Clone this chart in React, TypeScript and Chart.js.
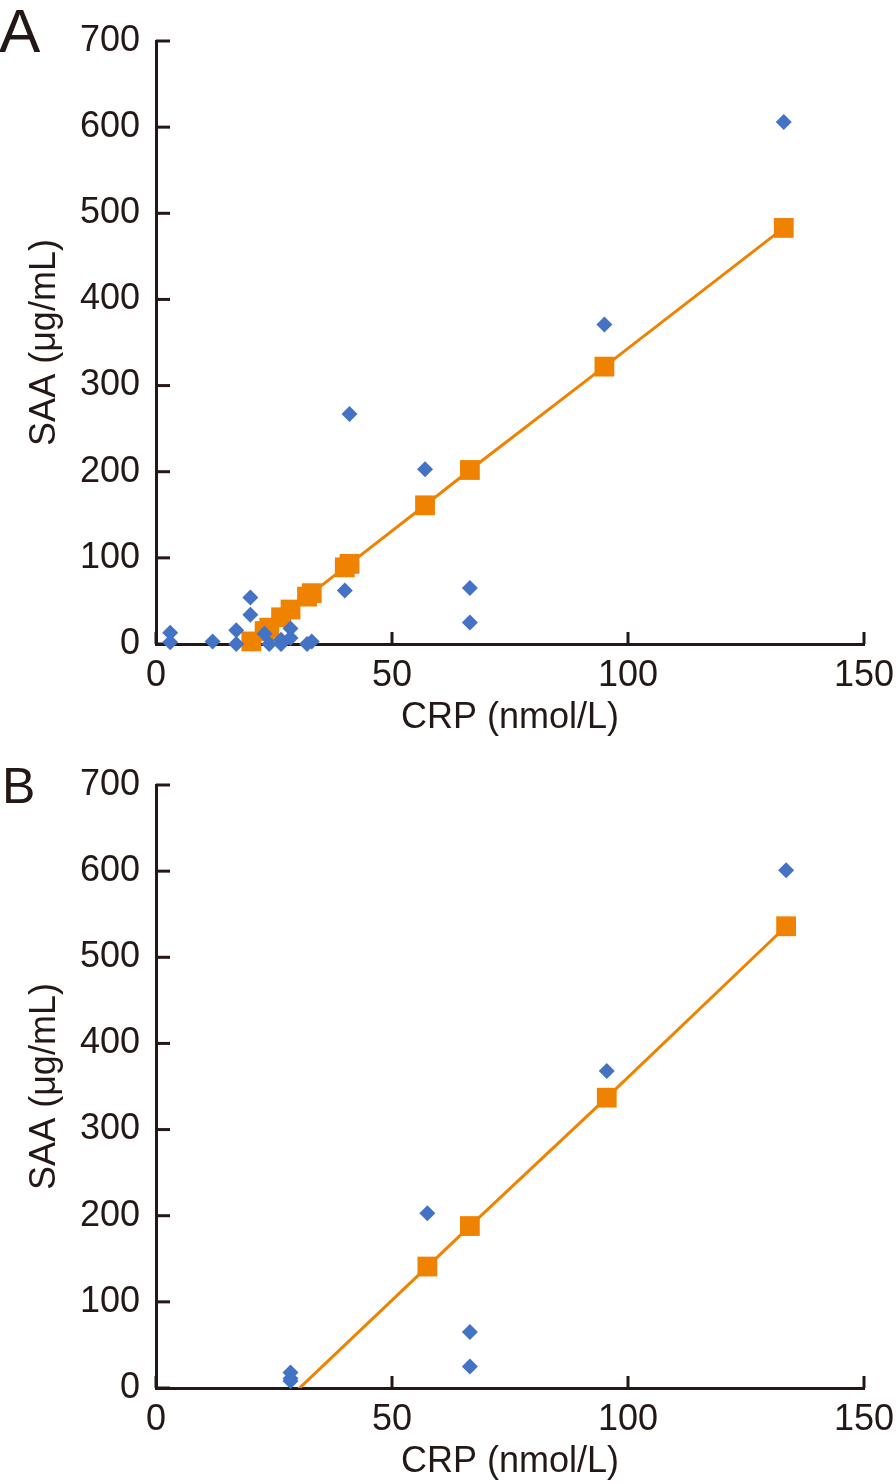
import React, { useEffect, useRef } from "react";
import { Chart, registerables } from "chart.js";

Chart.register(...registerables);

const INK = "#231815";
const BLUE = "#4472C4";
const ORANGE = "#EF8200";
const FONT = "'Liberation Sans', Arial, Helvetica, sans-serif";

const xAxisTitle = "CRP (nmol/L)";
const yAxisTitle = "SAA (μg/mL)";
const xMin = 0;
const xMax = 150;
const xStep = 50;
const yMin = 0;
const yMax = 700;
const yStep = 100;

// Panel A: observed values (blue diamonds)
const aObsX = [3, 3, 12, 17, 17, 20, 20, 23, 24, 26.5, 26.5, 28.5, 28.5, 32, 33, 40, 41, 57, 66.5, 66.5, 95, 133];
const aObsY = [13, 2, 3, 16, 0, 54, 34, 12, 0, 5, 0, 18, 7, 0, 3, 62, 267, 203, 65, 25, 371, 606];
// Panel A: regression line values (orange squares)
const aFitX = [20.2, 23, 24, 26.5, 28.5, 32, 33, 40, 41, 57, 66.5, 95, 133];
const aFitY = [3, 15, 19, 31, 40, 55, 59, 89, 93, 161, 202, 322, 483];

// Panel B: observed values (blue diamonds)
const bObsX = [28.5, 28.5, 28.5, 57.5, 66.5, 66.5, 95.5, 133.5];
const bObsY = [18, 11, 8, 203, 65, 25, 368, 601];
// Panel B: regression line values (orange squares)
const bFitX = [28.5, 57.5, 66.5, 95.5, 133.5];
const bFitY = [-10, 141, 188, 337, 536];
const bFitShown = [false, true, true, true, true];

const toPoints = (xs: number[], ys: number[]) => xs.map((x, i) => ({ x, y: ys[i] }));

const innerTicks = {
  id: "innerTicks",
  beforeDatasetsDraw(chart: any) {
    const { ctx, chartArea } = chart;
    const xs = chart.scales.x;
    const ys = chart.scales.y;
    ctx.save();
    ctx.strokeStyle = INK;
    ctx.lineWidth = 3;
    ctx.lineCap = "butt";
    xs.ticks.forEach((t: any) => {
      const px = xs.getPixelForValue(t.value);
      ctx.beginPath();
      ctx.moveTo(px, chartArea.bottom);
      ctx.lineTo(px, chartArea.bottom - 12);
      ctx.stroke();
    });
    ys.ticks.forEach((t: any) => {
      const py = ys.getPixelForValue(t.value);
      ctx.beginPath();
      ctx.moveTo(chartArea.left, py);
      ctx.lineTo(chartArea.left + 14, py);
      ctx.stroke();
    });
    ctx.restore();
  },
};

type PanelProps = {
  obsX: number[];
  obsY: number[];
  fitX: number[];
  fitY: number[];
  fitShown?: boolean[];
  fitClipBottom: boolean;
};

function Panel({ obsX, obsY, fitX, fitY, fitShown, fitClipBottom }: PanelProps) {
  const ref = useRef<HTMLCanvasElement | null>(null);
  useEffect(() => {
    if (!ref.current) return;
    const tickFont = { family: FONT, size: 36 };
    const chart = new Chart(ref.current, {
      type: "scatter",
      data: {
        datasets: [
          {
            label: "fit",
            data: toPoints(fitX, fitY),
            showLine: true,
            borderColor: ORANGE,
            borderWidth: 3,
            backgroundColor: ORANGE,
            pointStyle: "rect",
            pointRadius: fitX.map((_, i) => (fitShown && !fitShown[i] ? 0 : 14)),
            pointBorderWidth: 0,
            pointBackgroundColor: ORANGE,
            clip: fitClipBottom
              ? { left: false, top: false, right: false, bottom: 0 }
              : false,
            order: 2,
          } as any,
          {
            label: "observed",
            data: toPoints(obsX, obsY),
            showLine: false,
            pointStyle: "rectRot",
            pointRadius: 8,
            pointBorderWidth: 0,
            backgroundColor: BLUE,
            pointBackgroundColor: BLUE,
            clip: false,
            order: 1,
          } as any,
        ],
      },
      options: {
        responsive: false,
        animation: false,
        events: [],
        layout: { padding: { top: 41, right: 32, bottom: 0, left: 0 } },
        plugins: {
          legend: { display: false },
          tooltip: { enabled: false },
          title: { display: false },
        },
        scales: {
          x: {
            type: "linear",
            min: xMin,
            max: xMax,
            ticks: { stepSize: xStep, padding: 10, font: tickFont, color: INK, maxRotation: 0 },
            grid: { display: false, drawTicks: false },
            border: { display: true, color: INK, width: 3 },
            title: {
              display: true,
              text: xAxisTitle,
              font: tickFont,
              color: INK,
              padding: { top: 0, bottom: 4 },
            },
            afterFit: (s: any) => {
              s.height = 100;
              s.paddingLeft = 0;
              s.paddingRight = 0;
            },
          },
          y: {
            type: "linear",
            min: yMin,
            max: yMax,
            ticks: { stepSize: yStep, padding: 16, font: tickFont, color: INK },
            grid: { display: false, drawTicks: false },
            border: { display: true, color: INK, width: 3 },
            title: {
              display: true,
              text: yAxisTitle,
              font: tickFont,
              color: INK,
              padding: { top: 23, bottom: 0 },
            },
            afterFit: (s: any) => {
              s.width = 156;
              s.paddingTop = 0;
              s.paddingBottom = 0;
            },
          },
        },
      } as any,
      plugins: [innerTicks],
    });
    return () => chart.destroy();
  }, []);
  return <canvas ref={ref} width={896} height={744} style={{ display: "block" }} />;
}

export default function App() {
  const letter = (txt: string, top: number, left: number, size: number) => (
    <div
      style={{
        position: "absolute",
        top,
        left,
        fontFamily: FONT,
        fontSize: size,
        lineHeight: 1,
        color: INK,
      }}
    >
      {txt}
    </div>
  );
  return (
    <div
      style={{
        position: "fixed",
        top: 0,
        left: 0,
        width: 896,
        height: 1484,
        overflow: "hidden",
        background: "#ffffff",
      }}
    >
      <div style={{ position: "absolute", top: 0, left: 0 }}>
        <Panel obsX={aObsX} obsY={aObsY} fitX={aFitX} fitY={aFitY} fitClipBottom={false} />
      </div>
      <div style={{ position: "absolute", top: 744, left: 0 }}>
        <Panel
          obsX={bObsX}
          obsY={bObsY}
          fitX={bFitX}
          fitY={bFitY}
          fitShown={bFitShown}
          fitClipBottom={true}
        />
      </div>
      {letter("A", 0, -1, 62)}
      {letter("B", 761, 2, 50)}
    </div>
  );
}
